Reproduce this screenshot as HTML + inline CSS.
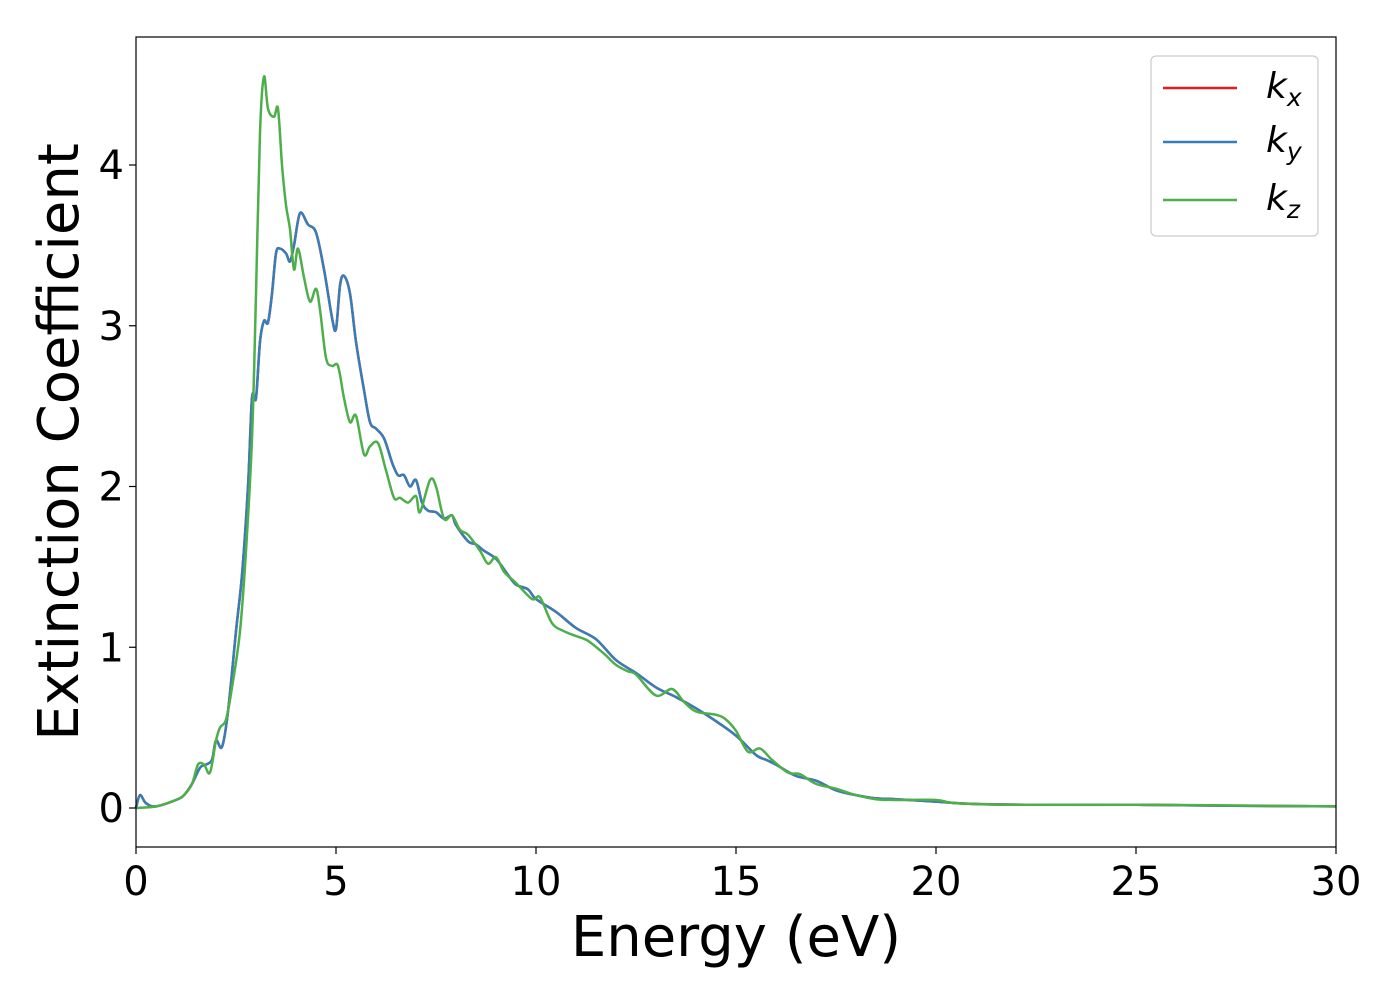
<!DOCTYPE html>
<html><head><meta charset="utf-8"><style>
body{margin:0;background:#fff}
svg text{font-family:"DejaVu Sans","Liberation Sans",sans-serif;fill:#000}
</style></head><body>
<svg id="chart" width="1400" height="1000" xmlns="http://www.w3.org/2000/svg">
<rect x="0" y="0" width="1400" height="1000" fill="#fff"/>
<g id="plot"></g>
<rect x="136" y="37" width="1200" height="810" fill="none" stroke="#000" stroke-width="1.2"/>
<g id="xticks"></g>
<g id="yticks"></g>
<text x="736" y="956" font-size="56" text-anchor="middle">Energy (eV)</text>
<text transform="translate(78,442) rotate(-90)" font-size="56" text-anchor="middle">Extinction Coefficient</text>
<g>
<rect x="1151" y="56" width="167" height="180" rx="5" fill="#fff" stroke="#ccc" stroke-width="1.2"/>
<line x1="1163" y1="88" x2="1237" y2="88" stroke="#e41a1c" stroke-width="2.5"/>
<line x1="1163" y1="142" x2="1237" y2="142" stroke="#377eb8" stroke-width="2.5"/>
<line x1="1163" y1="200" x2="1237" y2="200" stroke="#4daf4a" stroke-width="2.5"/>
<text x="1266" y="98" font-size="36" font-style="italic">k<tspan font-size="25" dy="8">x</tspan></text>
<text x="1266" y="152" font-size="36" font-style="italic">k<tspan font-size="25" dy="8">y</tspan></text>
<text x="1266" y="210" font-size="36" font-style="italic">k<tspan font-size="25" dy="8">z</tspan></text>
</g>
</svg>
<script>
const xTicks=[0,5,10,15,20,25,30];
const yTicks=[0,1,2,3,4];
const eY=[0,0.1,0.25,0.5,1.0,1.2,1.4,1.6,1.75,1.9,2.0,2.15,2.3,2.5,2.65,2.8,2.9,3.0,3.1,3.2,3.3,3.4,3.5,3.6,3.75,3.85,3.95,4.1,4.3,4.5,4.7,4.9,5.0,5.1,5.2,5.35,5.5,5.7,5.85,6.0,6.2,6.4,6.55,6.7,6.85,7.0,7.15,7.3,7.5,7.7,7.9,8.0,8.3,8.5,8.7,9.0,9.3,9.5,9.8,10.0,10.5,11,11.5,12,12.5,13,13.5,14,14.5,15,15.5,15.75,16,16.5,17,17.5,18,18.5,19,20,21,23,25,27,30];
const kyVals=[0.0,0.08,0.03,0.01,0.05,0.08,0.15,0.25,0.27,0.3,0.42,0.38,0.6,1.1,1.45,2.0,2.55,2.55,2.9,3.03,3.02,3.2,3.45,3.48,3.45,3.4,3.5,3.7,3.63,3.58,3.35,3.05,2.98,3.25,3.31,3.2,2.9,2.6,2.4,2.36,2.3,2.15,2.07,2.07,2.0,2.04,1.9,1.85,1.84,1.8,1.82,1.76,1.66,1.64,1.6,1.55,1.45,1.39,1.36,1.3,1.22,1.12,1.05,0.92,0.84,0.75,0.69,0.62,0.54,0.45,0.33,0.3,0.27,0.2,0.17,0.11,0.08,0.06,0.055,0.04,0.025,0.02,0.02,0.015,0.01];
const kxVals=[0.0,0.08,0.03,0.01,0.05,0.08,0.15,0.25,0.27,0.3,0.42,0.38,0.6,1.1,1.45,2.0,2.55,2.55,2.9,3.03,3.02,3.2,3.45,3.48,3.45,3.4,3.5,3.7,3.63,3.58,3.35,3.05,2.98,3.25,3.31,3.2,2.9,2.6,2.4,2.36,2.3,2.15,2.07,2.07,2.0,2.04,1.9,1.85,1.84,1.8,1.82,1.76,1.66,1.64,1.6,1.55,1.45,1.39,1.36,1.3,1.22,1.12,1.05,0.92,0.84,0.75,0.69,0.62,0.54,0.45,0.33,0.3,0.27,0.2,0.17,0.11,0.08,0.06,0.055,0.04,0.025,0.02,0.02,0.015,0.01];
const eZ=[0,0.5,1.0,1.2,1.4,1.55,1.7,1.85,2.0,2.1,2.25,2.4,2.6,2.75,2.9,3.0,3.1,3.2,3.3,3.45,3.55,3.65,3.75,3.85,3.95,4.05,4.2,4.35,4.5,4.6,4.75,4.9,5.05,5.2,5.35,5.5,5.7,5.85,6.05,6.25,6.45,6.6,6.8,7.0,7.1,7.35,7.5,7.7,7.9,8.1,8.3,8.6,8.8,9.0,9.2,9.5,9.9,10.1,10.4,10.7,11,11.3,11.7,12,12.3,12.5,13,13.4,13.7,14,14.5,14.75,15,15.3,15.6,15.9,16.3,16.6,17,17.5,18,18.5,19,20,20.5,22,25,28,30];
const kzVals=[0.0,0.01,0.05,0.08,0.15,0.27,0.27,0.22,0.42,0.5,0.55,0.75,1.1,1.6,2.3,3.2,4.2,4.55,4.35,4.3,4.35,4.0,3.75,3.6,3.35,3.48,3.3,3.15,3.23,3.1,2.8,2.75,2.75,2.55,2.4,2.44,2.2,2.25,2.27,2.1,1.93,1.93,1.9,1.94,1.84,2.04,2.0,1.8,1.82,1.73,1.7,1.6,1.52,1.56,1.47,1.4,1.3,1.31,1.15,1.1,1.07,1.04,0.96,0.89,0.85,0.83,0.7,0.74,0.66,0.6,0.58,0.55,0.48,0.35,0.37,0.3,0.22,0.21,0.15,0.12,0.08,0.055,0.05,0.05,0.03,0.02,0.02,0.015,0.01];

const NS='http://www.w3.org/2000/svg';
const X0=136,X1=1336,Y0=808,YPER=160.75;
function sx(v){return X0+(v-0)/30*(X1-X0);}
function sy(v){return Y0-v*YPER;}
function pathFor(xs,ys){
  const p=xs.map((x,i)=>[sx(x),sy(ys[i])]);
  let d='M'+p[0][0].toFixed(1)+','+p[0][1].toFixed(1);
  for(let i=0;i<p.length-1;i++){
    const a=p[Math.max(0,i-1)],b=p[i],c=p[i+1],e=p[Math.min(p.length-1,i+2)];
    const c1=[b[0]+(c[0]-a[0])/6,b[1]+(c[1]-a[1])/6];
    const c2=[c[0]-(e[0]-b[0])/6,c[1]-(e[1]-b[1])/6];
    d+='C'+c1[0].toFixed(1)+','+c1[1].toFixed(1)+' '+c2[0].toFixed(1)+','+c2[1].toFixed(1)+' '+c[0].toFixed(1)+','+c[1].toFixed(1);
  }
  return d;
}
const plot=document.getElementById('plot');
function addSeries(xs,ys,color,name){
  const el=document.createElementNS(NS,'path');
  el.setAttribute('d',pathFor(xs,ys));
  el.setAttribute('fill','none');
  el.setAttribute('stroke',color);
  el.setAttribute('stroke-width','2.5');
  el.setAttribute('stroke-linejoin','round');
  
  
  plot.appendChild(el);
}
addSeries(eY,kxVals,'#e41a1c','series-kx');
addSeries(eY,kyVals,'#377eb8','series-ky');
addSeries(eZ,kzVals,'#4daf4a','series-kz');

const xg=document.getElementById('xticks');
xTicks.forEach(t=>{
  const l=document.createElementNS(NS,'line');
  l.setAttribute('x1',sx(t));l.setAttribute('x2',sx(t));
  l.setAttribute('y1',847);l.setAttribute('y2',854);
  l.setAttribute('stroke','#000');l.setAttribute('stroke-width','1.2');
  
  
  xg.appendChild(l);
  const tx=document.createElementNS(NS,'text');
  tx.setAttribute('x',sx(t));tx.setAttribute('y',895);
  tx.setAttribute('font-size','40');tx.setAttribute('text-anchor','middle');
  tx.textContent=t;
  
  
  xg.appendChild(tx);
});
const yg=document.getElementById('yticks');
yTicks.forEach(t=>{
  const l=document.createElementNS(NS,'line');
  l.setAttribute('x1',129);l.setAttribute('x2',136);
  l.setAttribute('y1',sy(t));l.setAttribute('y2',sy(t));
  l.setAttribute('stroke','#000');l.setAttribute('stroke-width','1.2');
  
  
  yg.appendChild(l);
  const tx=document.createElementNS(NS,'text');
  tx.setAttribute('x',124);tx.setAttribute('y',sy(t)+14);
  tx.setAttribute('font-size','40');tx.setAttribute('text-anchor','end');
  tx.textContent=t;
  
  
  yg.appendChild(tx);
});
</script>
</body></html>
